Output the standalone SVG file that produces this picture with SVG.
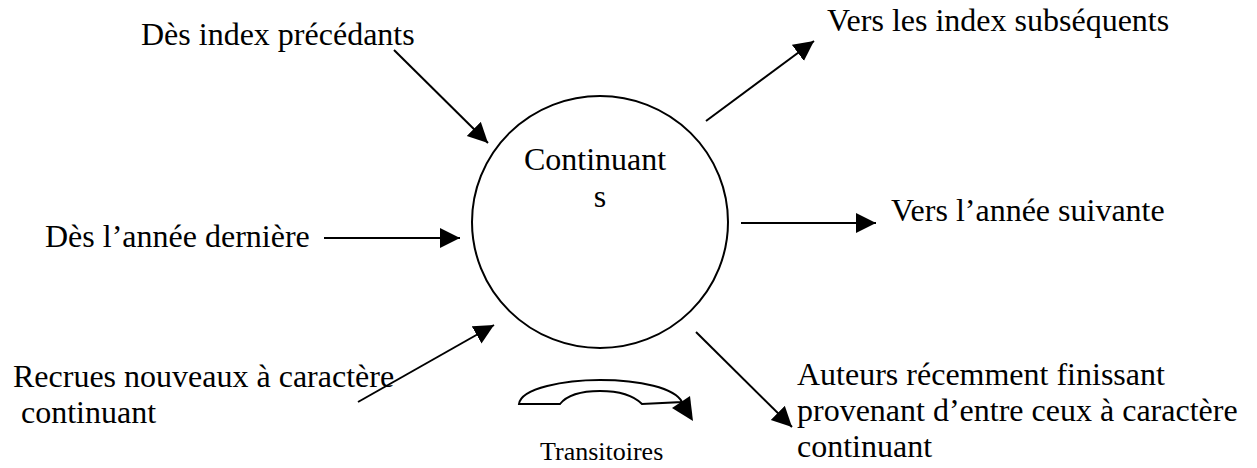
<svg xmlns="http://www.w3.org/2000/svg" width="1257" height="468" viewBox="0 0 1257 468">
<style>
text{font-family:'Liberation Serif','DejaVu Serif',serif;font-size:32px;fill:#000}
.small{font-size:26px}
.ln{stroke:#000;stroke-width:2;fill:none}
</style>
<defs>
<marker id="ah" markerUnits="userSpaceOnUse" markerWidth="22" markerHeight="22" refX="20" refY="10" orient="auto">
<path d="M0,0 L20,10 L0,20 z" fill="#000"/>
</marker>
</defs>
<rect width="1257" height="468" fill="#fff"/>
<g id="node-continuants" font-family="Liberation Serif, serif">
<ellipse cx="600" cy="222" rx="128" ry="126" class="ln"/>
<text x="595" y="170" text-anchor="middle" font-family="Liberation Serif, serif">Continuant</text>
<text x="600" y="207" text-anchor="middle" font-family="Liberation Serif, serif">s</text>
</g>
<g id="node-precedants"><text x="141" y="45" font-family="Liberation Serif, serif">Dès index précédants</text></g>
<g id="node-subsequents"><text x="827" y="31" font-family="Liberation Serif, serif">Vers les index subséquents</text></g>
<g id="node-derniere"><text x="45" y="247" font-family="Liberation Serif, serif">Dès l’année dernière</text></g>
<g id="node-suivante"><text x="891" y="221" font-family="Liberation Serif, serif">Vers l’année suivante</text></g>
<g id="node-recrues"><text x="13" y="387" font-family="Liberation Serif, serif">Recrues nouveaux à caractère</text><text x="13" y="423" xml:space="preserve" font-family="Liberation Serif, serif"> continuant</text></g>
<g id="node-auteurs"><text x="797" y="385" font-family="Liberation Serif, serif">Auteurs récemment finissant</text><text x="797" y="421" font-family="Liberation Serif, serif">provenant d’entre ceux à caractère</text><text x="797" y="457" font-family="Liberation Serif, serif">continuant</text></g>
<g id="node-transitoires">
<path d="M519,404 C521,388 565,380 600,380 C640,380 675,388 682,402 L642,404 C632,394 615,391 600,391 C585,391 568,394 560,404 Z" class="ln"/>
<path d="M672,408 L690,396 L693,421 Z" fill="#000"/>
<text class="small" x="540" y="460" font-family="Liberation Serif, serif">Transitoires</text>
</g>
<g id="connectors" class="ln">
<line x1="394" y1="50" x2="488" y2="143" marker-end="url(#ah)"/>
<line x1="324" y1="238" x2="460" y2="238" marker-end="url(#ah)"/>
<line x1="358" y1="402" x2="494" y2="325" marker-end="url(#ah)"/>
<line x1="706" y1="121" x2="814" y2="41" marker-end="url(#ah)"/>
<line x1="741" y1="223" x2="876" y2="223" marker-end="url(#ah)"/>
<line x1="696" y1="332" x2="792" y2="427" marker-end="url(#ah)"/>
</g>
</svg>
